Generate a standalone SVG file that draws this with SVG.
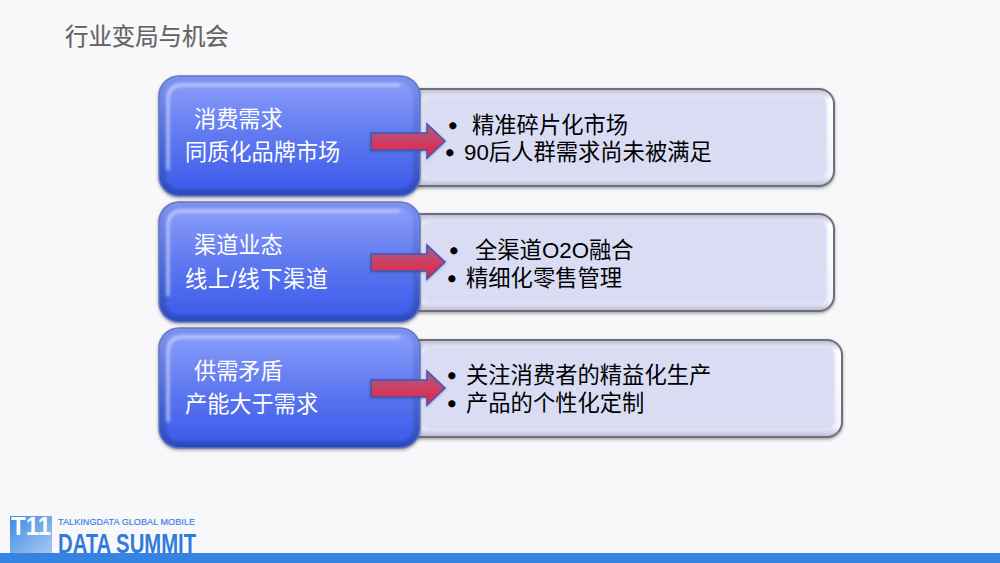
<svg xmlns="http://www.w3.org/2000/svg" width="1000" height="563" viewBox="0 0 1000 563">
<style>
.t{font-family:"Liberation Sans","Noto Sans CJK SC",sans-serif}
.title{font-size:23.4px;fill:#636363;stroke:#636363;stroke-width:.2}
.w{font-size:22.2px;fill:#fff}
.b{font-size:22.3px;fill:#000}
.d{font-size:22px;font-weight:700;fill:#000;stroke:#000;stroke-width:.8}
.outer{fill:url(#rg);stroke:#6d7078;stroke-width:2;filter:url(#sh)}
.inner{fill:#dadcf4;filter:url(#bl)}
.bo{fill:url(#bg);stroke:#5f78c8;stroke-width:1.5;filter:url(#sh)}
.bi{fill:url(#bi);filter:url(#bl)}
.hl{fill:none;stroke:#c6d2fb;stroke-width:3;opacity:.85;filter:url(#bl)}
.ar{fill:url(#ag);stroke:#3f55b8;stroke-width:1.5;filter:url(#sh2)}
</style>
<defs>
<linearGradient id="bg" x1="0" y1="0" x2="0" y2="1"><stop offset="0" stop-color="#7e93ee"/><stop offset="1" stop-color="#2b49bf"/></linearGradient>
<linearGradient id="bi" x1="0" y1="0" x2="0" y2="1"><stop offset="0" stop-color="#8a9dfa"/><stop offset=".5" stop-color="#5f79f0"/><stop offset="1" stop-color="#3d5cea"/></linearGradient>
<linearGradient id="rg" x1="0" y1="0" x2="0" y2="1"><stop offset="0" stop-color="#b9bbd8"/><stop offset=".12" stop-color="#fff"/><stop offset=".9" stop-color="#f2f3fb"/><stop offset="1" stop-color="#b7bad8"/></linearGradient>
<linearGradient id="ag" x1="0" y1="0" x2="0" y2="1"><stop offset="0" stop-color="#a4608f"/><stop offset="1" stop-color="#f0203c"/></linearGradient>
<linearGradient id="lg" x1="0" y1="0" x2="1" y2="1"><stop offset="0" stop-color="#3d8ae6"/><stop offset="1" stop-color="#a9c9f0"/></linearGradient>
<filter id="sh" x="-5%" y="-5%" width="110%" height="115%"><feDropShadow dx="0" dy="1.5" stdDeviation="1.5" flood-color="#333" flood-opacity=".45"/></filter>
<filter id="sh2" x="-10%" y="-10%" width="125%" height="130%"><feDropShadow dx="0" dy="1" stdDeviation="1" flood-color="#333" flood-opacity=".35"/></filter>
<filter id="bl" x="-5%" y="-5%" width="110%" height="110%"><feGaussianBlur stdDeviation="1.5"/></filter>
</defs>
<rect width="1000" height="563" fill="#f8f8fa"/>
<text id="title" class="t title" x="65" y="45">行业变局与机会</text>

<g id="row1-detail">
<rect class="outer" x="401" y="89" width="433" height="97" rx="15"/>
<rect class="inner" x="422" y="96" width="405" height="83" rx="8"/>
<text class="t d" x="449" y="133">•</text><text class="t b" x="472" y="133">精准碎片化市场</text>
<text class="t d" x="446" y="160">•</text><text class="t b" x="464" y="160">90后人群需求尚未被满足</text>
</g>
<g id="row1-head">
<rect class="bo" x="159" y="76" width="261" height="120" rx="20"/>
<rect class="bi" x="166" y="82" width="247" height="107" rx="13"/>
<path class="hl" d="M168 170V100Q168 85 183 85H400"/>
<path class="hl" d="M414 95V178"/>
<text class="t w" x="194" y="127">消费需求</text>
<text class="t w" x="185" y="160">同质化品牌市场</text>
</g>

<g id="row2-detail">
<rect class="outer" x="401" y="214" width="433" height="97" rx="15"/>
<rect class="inner" x="422" y="221" width="405" height="83" rx="8"/>
<text class="t d" x="450" y="258">•</text><text class="t b" x="475" y="258">全渠道O2O融合</text>
<text class="t d" x="448" y="286">•</text><text class="t b" x="466" y="286">精细化零售管理</text>
</g>
<g id="row2-head">
<rect class="bo" x="159" y="202" width="261" height="120" rx="20"/>
<rect class="bi" x="166" y="208" width="247" height="107" rx="13"/>
<path class="hl" d="M168 296V226Q168 211 183 211H400"/>
<path class="hl" d="M414 221V304"/>
<text class="t w" x="194" y="253">渠道业态</text>
<text class="t w" x="185" y="287" textLength="143">线上/线下渠道</text>
</g>

<g id="row3-detail">
<rect class="outer" x="401" y="340" width="441" height="97" rx="15"/>
<rect class="inner" x="422" y="347" width="413" height="83" rx="8"/>
<text class="t d" x="448" y="383">•</text><text class="t b" x="466" y="383">关注消费者的精益化生产</text>
<text class="t d" x="448" y="411">•</text><text class="t b" x="466" y="411">产品的个性化定制</text>
</g>
<g id="row3-head">
<rect class="bo" x="159" y="328" width="261" height="120" rx="20"/>
<rect class="bi" x="166" y="334" width="247" height="107" rx="13"/>
<path class="hl" d="M168 422V352Q168 337 183 337H400"/>
<path class="hl" d="M414 347V430"/>
<text class="t w" x="194" y="379">供需矛盾</text>
<text class="t w" x="185" y="412">产能大于需求</text>
</g>

<g id="connectors">
<path class="ar" d="M371 133H427V124L445 141L427 158V150H371Z"/>
<path class="ar" d="M371 254H427V245L445 262L427 279V271H371Z"/>
<path class="ar" d="M371 380H427V371L445 388L427 405V397H371Z"/>
</g>

<g id="logo">
<rect x="10" y="516" width="42" height="38" fill="url(#lg)"/>
<text class="t" x="11" y="535" font-size="26" font-weight="700" fill="#fff" textLength="40" lengthAdjust="spacingAndGlyphs">T11</text>
<text class="t" x="58" y="525" font-size="9" fill="#3d85e0" stroke="#3d85e0" stroke-width=".2" textLength="137" lengthAdjust="spacing">TALKINGDATA GLOBAL MOBILE</text>
<text class="t" x="58" y="553" font-size="28.5" font-weight="700" fill="#2f7cdc" textLength="138" lengthAdjust="spacingAndGlyphs">DATA SUMMIT</text>
</g>
<rect id="footer-bar" x="0" y="553" width="1000" height="10" fill="#3583e3"/>
</svg>
